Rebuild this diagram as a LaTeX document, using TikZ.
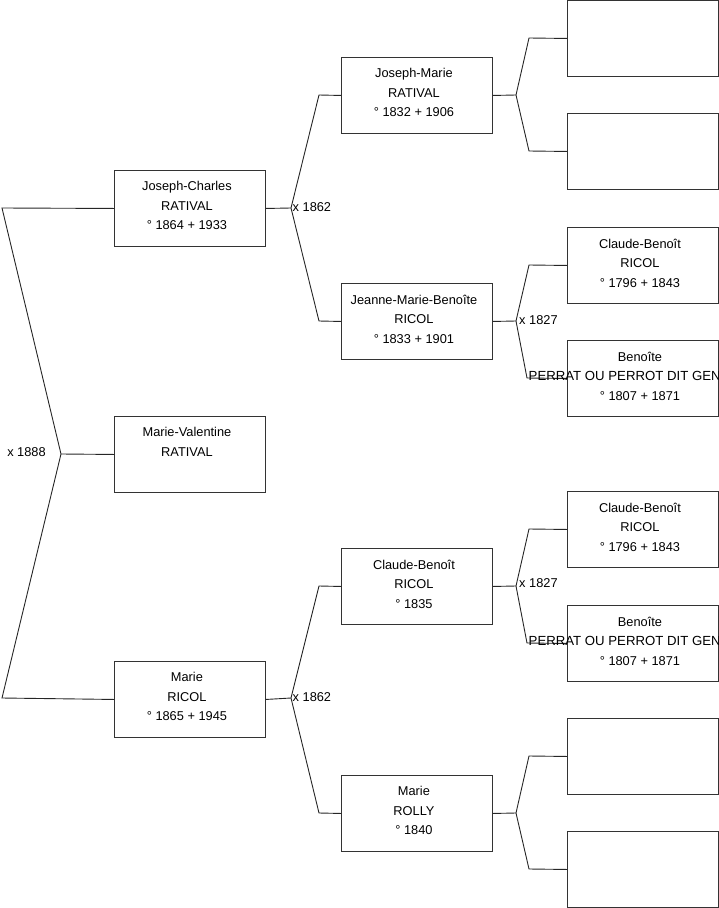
\documentclass[tikz,border=0pt]{standalone}
\usepackage{fontspec}
\setmainfont{Liberation Sans}
\begin{document}
\begin{tikzpicture}[x=1pt,y=-1pt,
  box/.style={draw=black!80,line width=0.9pt,minimum width=151pt,minimum height=76pt,inner sep=0pt,anchor=north west},
  txt/.style={anchor=north,align=center,font=\fontsize{12.8}{19.5}\selectfont,inner sep=0pt,yshift=-11.5pt,xshift=-3pt},
  ln/.style={draw=black!85,line width=0.9pt},
  lab/.style={font=\fontsize{12.8}{15}\selectfont,inner sep=0pt}]
\useasboundingbox (0,0) rectangle (719,908);
\clip (0,0) rectangle (719,908);
% level 1
\node[box] (jc) at (114,170) {};
\node[box] (mv) at (114,416) {};
\node[box] (mr) at (114,661) {};
% level 2
\node[box] (jm) at (341,57) {};
\node[box] (jmb) at (341,283) {};
\node[box] (cb) at (341,548) {};
\node[box] (mro) at (341,775) {};
% level 3
\node[box] (a1) at (567,0) {};
\node[box] (a2) at (567,113) {};
\node[box] (a3) at (567,227) {};
\node[box] (a4) at (567,340) {};
\node[box] (a5) at (567,491) {};
\node[box] (a6) at (567,605) {};
\node[box] (a7) at (567,718) {};
\node[box] (a8) at (567,831) {};
% texts
\node[txt] (tjc) at (jc.north) {Joseph-Charles\\RATIVAL\\° 1864 + 1933};
\node[txt] (tmv) at (mv.north) {Marie-Valentine\\RATIVAL};
\node[txt] (tmr) at (mr.north) {Marie\\RICOL\\° 1865 + 1945};
\node[txt] (tjm) at (jm.north) {Joseph-Marie\\RATIVAL\\° 1832 + 1906};
\node[txt] (tjmb) at (jmb.north) {Jeanne-Marie-Benoîte\\RICOL\\° 1833 + 1901};
\node[txt] (tcb) at (cb.north) {Claude-Benoît\\RICOL\\° 1835};
\node[txt] (tmro) at (mro.north) {Marie\\ROLLY\\° 1840};
\node[txt] (ta3) at (a3.north) {Claude-Benoît\\RICOL\\° 1796 + 1843};
\node[txt] (ta4) at (a4.north) {Benoîte\\\mbox{}\\° 1807 + 1871};
\node[txt] (ta5) at (a5.north) {Claude-Benoît\\RICOL\\° 1796 + 1843};
\node[txt] (ta6) at (a6.north) {Benoîte\\\mbox{}\\° 1807 + 1871};
% connectors level 1
\coordinate (v0) at (61,454);
\coordinate (l0t) at (2,208);
\coordinate (l0b) at (2,698);
\draw[ln] (jc.west) -- (l0t) -- (v0) -- (l0b) -- (mr.west);
\draw[ln] (v0) -- (mv.west);
\node[lab] (m0) at (26.5,452) {x 1888};
% level 2 brackets
\coordinate (v1) at (291,208);
\draw[ln] (jc.east) -- (v1);
\draw[ln] (jm.west) -- (319,95) -- (v1) -- (319,321) -- (jmb.west);
\node[lab,anchor=west] (m1) at (292.5,207) {x 1862};
\coordinate (v2) at (291,698);
\draw[ln] (mr.east) -- (v2);
\draw[ln] (cb.west) -- (319,586) -- (v2) -- (319,813) -- (mro.west);
\node[lab,anchor=west] (m2) at (292.5,697) {x 1862};
% level 3 brackets
\coordinate (v3) at (516,95);
\draw[ln] (jm.east) -- (v3);
\draw[ln] (a1.west) -- (529,38) -- (v3) -- (529,151) -- (a2.west);
\coordinate (v4) at (516,321);
\draw[ln] (jmb.east) -- (v4);
\draw[ln] (a3.west) -- (529,265) -- (v4) -- (527,378) -- (a4.west);
\node[lab,anchor=west] (m4) at (519,320) {x 1827};
\coordinate (v5) at (516,586);
\draw[ln] (cb.east) -- (v5);
\draw[ln] (a5.west) -- (529,529) -- (v5) -- (527,643) -- (a6.west);
\node[lab,anchor=west] (m5) at (519,583) {x 1827};
\coordinate (v6) at (516,813);
\draw[ln] (mro.east) -- (v6);
\draw[ln] (a7.west) -- (529,756) -- (v6) -- (529,869) -- (a8.west);
% overflowing names
\node[lab,anchor=base west,font=\fontsize{13.2}{15}\selectfont] (p4) at (528.5,380.5) {PERRAT OU PERROT DIT GEN};
\node[lab,anchor=base west,font=\fontsize{13.2}{15}\selectfont] (p6) at (528.5,645.5) {PERRAT OU PERROT DIT GEN};
\end{tikzpicture}
\end{document}
